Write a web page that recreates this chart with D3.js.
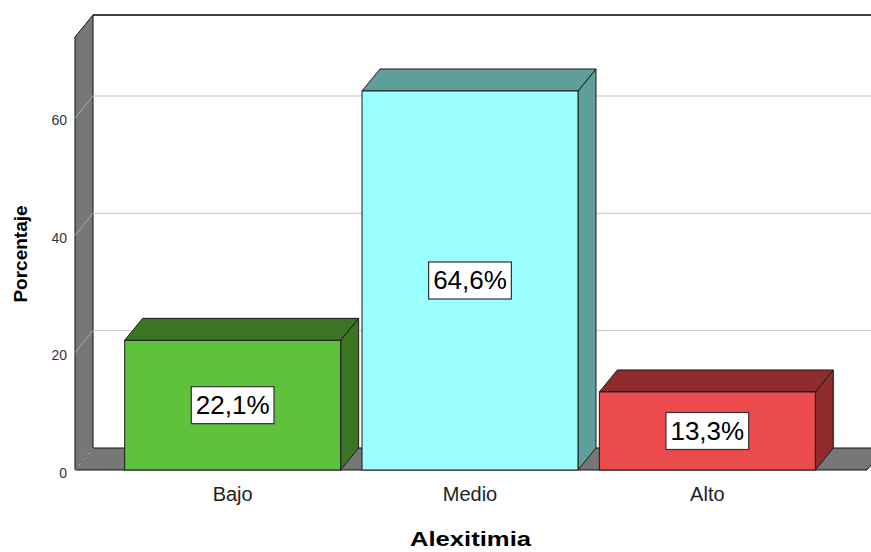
<!DOCTYPE html>
<html><head><meta charset="utf-8">
<script src="https://cdn.jsdelivr.net/npm/d3@7"></script>
<style>
html,body{margin:0;padding:0;background:#fff;}
svg{display:block;font-family:"Liberation Sans",Arial,sans-serif;}
</style></head>
<body>
<svg id="chart" width="871" height="552"></svg>
<script>
const categories = ["Bajo", "Medio", "Alto"];
const values = [22.1, 64.6, 13.3];
const valueLabels = ["22,1%", "64,6%", "13,3%"];
const yTicks = [0, 20, 40, 60];
const frontColors = ["#5ec23b", "#99ffff", "#ec4b4d"];
const sideColors = ["#3b7524", "#5f9e9b", "#8f2c2e"];
const xTitle = "Alexitimia";
const yTitle = "Porcentaje";

const W = 871, H = 552;
const DX = 18, DY = -22;
const svg = d3.select("#chart");

const y = d3.scaleLinear().domain([0, 73.8]).range([470, 37]);
const x = d3.scaleBand().domain(categories).range([114, 826]).paddingInner(0.09).paddingOuter(0.045);
const xLeft = 75, xRight = 867;

const g = svg.append("g");
// left wall
g.append("polygon")
  .attr("points", [[xLeft, y(0)], [xLeft, y.range()[1]], [xLeft+DX, y.range()[1]+DY], [xLeft+DX, y(0)+DY]].join(" "))
  .attr("fill", "#777777").attr("stroke", "#111").attr("stroke-width", 1);
// floor
g.append("polygon")
  .attr("points", [[xLeft, y(0)], [xLeft+DX, y(0)+DY], [xRight+DX, y(0)+DY], [xRight, y(0)]].join(" "))
  .attr("fill", "#777777").attr("stroke", "#111").attr("stroke-width", 1);
// back wall top line
g.append("line").attr("x1", xLeft+DX).attr("x2", W+5)
  .attr("y1", y.range()[1]+DY).attr("y2", y.range()[1]+DY)
  .attr("stroke", "#000").attr("stroke-width", 1.5);

// gridlines
yTicks.forEach(t => {
  if (t > 0) {
    g.append("line").attr("x1", xLeft+DX).attr("x2", W+5)
      .attr("y1", y(t)+DY).attr("y2", y(t)+DY)
      .attr("stroke", "#c4c4c4").attr("stroke-width", 1);
  }
  g.append("line").attr("x1", xLeft).attr("x2", xLeft+DX)
    .attr("y1", y(t)).attr("y2", y(t)+DY)
    .attr("stroke", "#aaaaaa").attr("stroke-width", 1);
});

// y axis labels
const yAxis = d3.axisLeft(y).tickValues(yTicks).tickSize(0).tickPadding(8).tickFormat(d3.format("d"));
const ya = svg.append("g").attr("transform", `translate(${xLeft},0)`).call(yAxis);
ya.select(".domain").remove();
ya.selectAll("text").attr("font-size", 14).attr("fill", "#333").attr("font-family", "Liberation Sans, Arial, sans-serif").attr("dy", "0.5em");

// bars
const bars = svg.append("g").selectAll("g").data(categories).join("g");
bars.each(function(c, i) {
  const sel = d3.select(this);
  const x0 = x(c), x1 = x(c) + x.bandwidth();
  const yt = y(values[i]), yb = y(0);
  sel.append("polygon")
    .attr("points", [[x1, yt], [x1+DX, yt+DY], [x1+DX, yb+DY], [x1, yb]].join(" "))
    .attr("fill", sideColors[i]).attr("stroke", "#1a1a1a").attr("stroke-width", 1).attr("stroke-linejoin", "round");
  sel.append("polygon")
    .attr("points", [[x0, yt], [x0+DX, yt+DY], [x1+DX, yt+DY], [x1, yt]].join(" "))
    .attr("fill", sideColors[i]).attr("stroke", "#1a1a1a").attr("stroke-width", 1).attr("stroke-linejoin", "round");
  sel.append("rect")
    .attr("x", x0).attr("y", yt).attr("width", x1 - x0).attr("height", yb - yt)
    .attr("fill", frontColors[i]).attr("stroke", "#1a1a1a").attr("stroke-width", 1);
  const cx = (x0 + x1) / 2, cy = (yt + yb) / 2;
  const txt = sel.append("text").attr("x", cx).attr("y", cy).attr("text-anchor", "middle")
    .attr("dominant-baseline", "central").attr("font-size", 26).attr("fill", "#000")
    .text(valueLabels[i]);
  const bb = txt.node().getBBox();
  sel.insert("rect", "text")
    .attr("x", cx - bb.width/2 - 4.5).attr("y", cy - 18.5)
    .attr("width", bb.width + 9).attr("height", 37)
    .attr("fill", "#fff").attr("stroke", "#333").attr("stroke-width", 1.2);
});

// x axis labels
const xAxis = d3.axisBottom(x).tickSize(0).tickPadding(0);
const xa = svg.append("g").attr("transform", `translate(0,${y(0)})`).call(xAxis);
xa.select(".domain").remove();
xa.selectAll("text").attr("font-size", 20).attr("fill", "#222")
  .attr("font-family", "Liberation Sans, Arial, sans-serif")
  .attr("dy", null).attr("y", 31);

// titles
svg.append("text").attr("x", 470.5).attr("y", 546).attr("text-anchor", "middle")
  .attr("font-size", 21).attr("font-weight", "bold").attr("fill", "#000")
  .attr("textLength", 121).attr("lengthAdjust", "spacingAndGlyphs")
  .text(xTitle);
svg.append("text").attr("transform", "translate(27,254) rotate(-90)").attr("text-anchor", "middle")
  .attr("font-size", 19).attr("font-weight", "bold").attr("fill", "#000")
  .text(yTitle);
</script>
</body></html>
